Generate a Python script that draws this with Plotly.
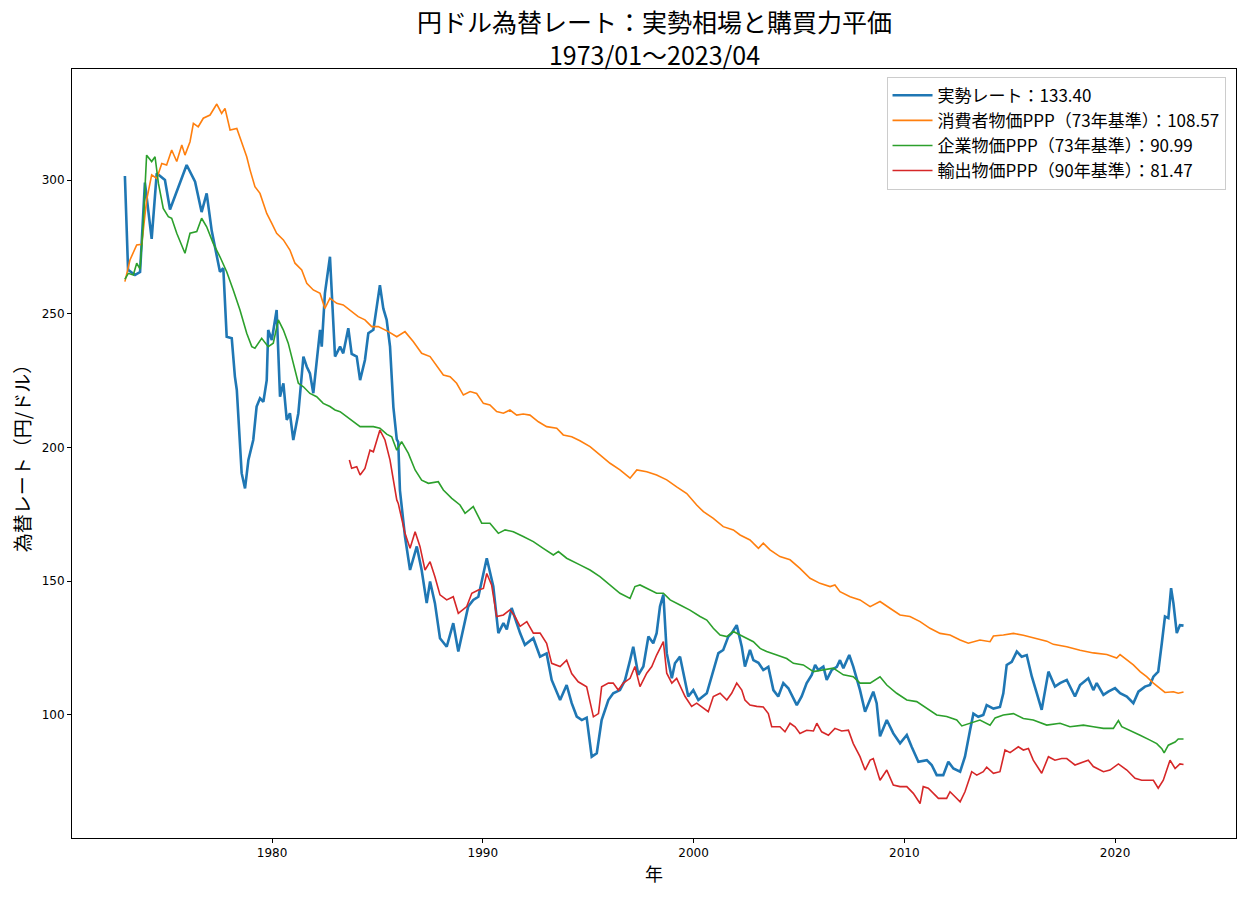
import plotly.graph_objects as go

# ---- data (decimal year, yen per dollar) ----
actual_year = [1973.02, 1973.17, 1973.50, 1973.74, 1973.97, 1974.29, 1974.53, 1974.92, 1975.16, 1975.32,
               1975.95, 1976.35, 1976.66, 1976.90, 1977.14, 1977.53, 1977.69, 1977.85, 1978.09, 1978.24,
               1978.33, 1978.56, 1978.72, 1978.88, 1979.11, 1979.27, 1979.43, 1979.59, 1979.75, 1979.82,
               1979.99, 1980.22, 1980.38, 1980.54, 1980.70, 1980.85, 1981.01, 1981.25, 1981.49, 1981.65,
               1981.80, 1981.96, 1982.20, 1982.28, 1982.36, 1982.51, 1982.75, 1982.99, 1983.23, 1983.38,
               1983.62, 1983.78, 1984.02, 1984.18, 1984.41, 1984.57, 1984.81, 1985.12, 1985.28, 1985.44,
               1985.60, 1985.76, 1985.92, 1985.99, 1986.07, 1986.31, 1986.55, 1986.87, 1987.10, 1987.34,
               1987.50, 1987.73, 1987.97, 1988.29, 1988.60, 1988.84, 1989.31, 1989.55, 1989.79, 1990.19,
               1990.50, 1990.74, 1990.98, 1991.14, 1991.37, 1991.77, 1992.00, 1992.40, 1992.72, 1993.03,
               1993.27, 1993.67, 1993.98, 1994.22, 1994.46, 1994.70, 1994.93, 1995.17, 1995.41, 1995.64,
               1995.96, 1996.19, 1996.51, 1996.75, 1996.99, 1997.14, 1997.38, 1997.62, 1997.86, 1998.09,
               1998.25, 1998.41, 1998.57, 1998.73, 1998.97, 1999.12, 1999.36, 1999.60, 1999.75, 1999.99,
               2000.23, 2000.63, 2000.94, 2001.18, 2001.41, 2001.65, 2001.81, 2002.05, 2002.29, 2002.44,
               2002.68, 2002.84, 2003.08, 2003.31, 2003.55, 2003.79, 2004.02, 2004.26, 2004.50, 2004.90,
               2005.13, 2005.37, 2005.61, 2005.77, 2005.92, 2006.16, 2006.32, 2006.56, 2006.80, 2006.95,
               2007.11, 2007.39, 2007.58, 2007.90, 2008.14, 2008.38, 2008.53, 2008.69, 2008.85, 2009.17,
               2009.48, 2009.80, 2010.12, 2010.35, 2010.67, 2011.07, 2011.30, 2011.54, 2011.85, 2012.09,
               2012.33, 2012.65, 2012.88, 2013.12, 2013.28, 2013.51, 2013.75, 2013.91, 2014.23, 2014.54,
               2014.70, 2014.86, 2015.10, 2015.34, 2015.57, 2015.81, 2016.05, 2016.29, 2016.52, 2016.84,
               2017.15, 2017.39, 2017.71, 2018.10, 2018.34, 2018.73, 2018.97, 2019.13, 2019.45, 2019.68,
               2020.00, 2020.24, 2020.56, 2020.87, 2021.11, 2021.42, 2021.66, 2021.82, 2022.05, 2022.22,
               2022.37, 2022.53, 2022.66, 2022.77, 2022.93, 2023.08, 2023.25]
actual_rate = [301.5, 266.4, 264.5, 265.6, 299.0, 278.0, 302.5, 300.0, 289.0, 292.5,
               305.6, 299.4, 288.0, 295.0, 281.0, 265.7, 267.0, 241.4, 240.8, 226.5,
               221.5, 190.4, 184.7, 195.3, 202.8, 215.3, 218.4, 217.1, 225.2, 243.9,
               240.2, 251.4, 219.0, 224.0, 210.3, 212.8, 202.8, 212.8, 234.0, 230.2,
               227.7, 220.3, 237.7, 244.0, 237.7, 257.6, 271.3, 234.0, 237.7, 235.2,
               244.6, 235.0, 234.0, 225.2, 232.7, 242.7, 244.0, 260.7, 252.0, 247.7,
               237.7, 215.0, 203.0, 202.0, 184.0, 166.7, 154.2, 163.0, 154.2, 141.8,
               149.9, 141.8, 128.7, 125.5, 134.3, 123.7, 140.6, 143.0, 144.2, 158.6,
               148.0, 130.6, 134.3, 132.0, 140.0, 130.6, 126.2, 128.7, 121.8, 123.0,
               113.1, 105.6, 111.2, 104.4, 99.4, 98.1, 99.0, 84.4, 85.7, 98.1,
               105.6, 108.1, 109.3, 113.0, 120.5, 125.5, 115.0, 118.1, 129.3, 126.8,
               130.6, 140.6, 145.0, 123.1, 113.7, 119.3, 121.8, 113.1, 106.9, 109.3,
               105.6, 108.1, 116.8, 123.1, 124.3, 129.3, 130.6, 133.6, 125.5, 118.1,
               124.3, 120.5, 119.5, 116.8, 118.0, 109.3, 106.9, 111.9, 110.0, 103.7,
               106.9, 111.9, 115.0, 118.7, 116.8, 118.1, 113.1, 116.8, 118.0, 120.5,
               117.5, 122.4, 118.1, 109.3, 101.2, 105.6, 108.7, 104.4, 92.0, 98.1,
               93.1, 89.4, 92.5, 88.1, 82.5, 83.1, 81.3, 77.5, 77.5, 82.5,
               80.0, 78.8, 84.4, 94.3, 100.5, 99.3, 100.0, 103.7, 102.4, 103.0,
               108.1, 118.7, 119.9, 123.7, 121.8, 122.4, 114.4, 108.1, 101.9, 116.2,
               110.6, 111.9, 113.1, 106.9, 111.2, 113.7, 109.3, 111.9, 107.5, 108.7,
               110.0, 108.1, 106.9, 104.4, 108.7, 110.6, 111.2, 114.3, 116.2, 126.8,
               136.8, 136.2, 147.4, 141.8, 130.6, 133.6, 133.4]

cpi_year = [1973.02, 1973.26, 1973.58, 1973.82, 1974.05, 1974.29, 1974.53, 1974.77, 1975.00, 1975.24,
            1975.48, 1975.72, 1975.87, 1976.11, 1976.27, 1976.50, 1976.74, 1977.06, 1977.38, 1977.61,
            1977.77, 1978.01, 1978.33, 1978.56, 1978.80, 1978.96, 1979.19, 1979.43, 1979.75, 1979.99,
            1980.22, 1980.54, 1980.85, 1981.09, 1981.41, 1981.65, 1981.96, 1982.28, 1982.51, 1982.75,
            1983.07, 1983.38, 1983.70, 1984.09, 1984.41, 1984.73, 1985.04, 1985.52, 1985.92, 1986.31,
            1986.70, 1987.10, 1987.50, 1987.73, 1988.13, 1988.45, 1988.76, 1989.08, 1989.40, 1989.71,
            1990.03, 1990.34, 1990.66, 1990.98, 1991.29, 1991.61, 1991.92, 1992.24, 1992.64, 1993.03,
            1993.51, 1993.82, 1994.22, 1994.61, 1995.09, 1995.56, 1996.04, 1996.51, 1996.99, 1997.31,
            1997.78, 1998.25, 1998.73, 1999.20, 1999.68, 2000.15, 2000.47, 2000.94, 2001.41, 2001.89,
            2002.21, 2002.68, 2003.08, 2003.31, 2003.63, 2004.10, 2004.58, 2005.05, 2005.53, 2006.00,
            2006.48, 2006.71, 2006.95, 2007.43, 2007.90, 2008.38, 2008.85, 2009.32, 2009.80, 2010.27,
            2010.75, 2011.22, 2011.70, 2012.17, 2012.65, 2013.04, 2013.59, 2014.07, 2014.23, 2014.70,
            2015.18, 2015.65, 2016.12, 2016.76, 2017.07, 2017.71, 2018.34, 2018.97, 2019.61, 2020.08,
            2020.24, 2020.56, 2020.87, 2021.19, 2021.50, 2021.82, 2022.14, 2022.37, 2022.77, 2023.00,
            2023.25]
cpi_ppp = [262.0, 270.1, 275.7, 276.0, 292.5, 301.9, 300.6, 306.2, 305.6, 311.2,
           306.9, 313.1, 309.3, 314.3, 321.2, 319.9, 323.1, 324.3, 328.4, 324.9,
           326.8, 318.7, 319.3, 313.7, 308.7, 303.7, 297.5, 295.0, 287.5, 283.8,
           280.1, 277.6, 273.8, 268.9, 266.4, 261.4, 258.9, 257.6, 252.0, 255.8,
           253.9, 253.3, 251.4, 248.9, 247.7, 245.2, 245.2, 243.3, 241.4, 243.3,
           239.6, 235.2, 234.0, 231.5, 227.1, 226.5, 224.0, 219.6, 220.9, 220.2,
           216.5, 215.9, 213.4, 212.8, 214.0, 212.1, 212.5, 212.1, 209.6, 207.8,
           207.2, 204.7, 204.0, 202.5, 200.3, 197.2, 194.1, 191.6, 188.5, 191.6,
           190.9, 189.7, 187.9, 185.3, 182.8, 178.5, 176.0, 173.5, 170.4, 169.2,
           167.3, 165.4, 162.3, 164.2, 161.7, 159.2, 158.0, 154.8, 151.1, 149.2,
           148.0, 148.6, 146.1, 144.2, 143.0, 140.5, 142.4, 139.9, 137.4, 136.8,
           134.9, 132.4, 130.5, 129.9, 128.0, 126.8, 128.0, 127.4, 129.5, 129.9,
           130.5, 129.8, 128.8, 127.6, 126.4, 125.5, 124.2, 123.2, 122.6, 121.3,
           122.6, 120.5, 118.7, 116.2, 114.3, 111.9, 110.0, 108.4, 108.7, 108.1,
           108.57]

wpi_year = [1973.02, 1973.18, 1973.42, 1973.58, 1973.74, 1973.89, 1974.05, 1974.29, 1974.45, 1974.61,
            1974.84, 1975.08, 1975.24, 1975.48, 1975.87, 1976.11, 1976.43, 1976.66, 1976.90, 1977.21,
            1977.53, 1977.85, 1978.16, 1978.48, 1978.80, 1979.04, 1979.19, 1979.51, 1979.82, 1980.06,
            1980.30, 1980.54, 1980.77, 1981.01, 1981.25, 1981.49, 1981.80, 1982.12, 1982.43, 1982.75,
            1982.99, 1983.23, 1983.54, 1983.86, 1984.18, 1984.49, 1984.81, 1985.12, 1985.44, 1985.68,
            1985.92, 1986.15, 1986.47, 1986.79, 1987.10, 1987.42, 1987.89, 1988.13, 1988.53, 1988.92,
            1989.16, 1989.55, 1989.95, 1990.34, 1990.74, 1991.06, 1991.45, 1991.92, 1992.40, 1992.87,
            1993.35, 1993.59, 1993.98, 1994.61, 1995.09, 1995.56, 1996.04, 1996.51, 1996.99, 1997.22,
            1997.46, 1997.94, 1998.25, 1998.57, 1998.89, 1999.36, 1999.83, 2000.31, 2000.63, 2000.94,
            2001.26, 2001.58, 2001.89, 2002.21, 2002.52, 2002.84, 2003.16, 2003.47, 2003.95, 2004.42,
            2004.74, 2005.21, 2005.69, 2006.16, 2006.63, 2007.11, 2007.58, 2007.90, 2008.38, 2008.85,
            2009.17, 2009.64, 2010.12, 2010.59, 2011.07, 2011.54, 2012.01, 2012.49, 2012.73, 2013.12,
            2013.59, 2014.07, 2014.31, 2014.70, 2015.18, 2015.65, 2016.12, 2016.76, 2017.39, 2017.86,
            2018.50, 2018.97, 2019.45, 2019.92, 2020.16, 2020.32, 2020.71, 2021.19, 2021.66, 2021.98,
            2022.22, 2022.33, 2022.53, 2022.85, 2023.00, 2023.25]
wpi_ppp = [262.9, 265.1, 264.5, 268.9, 266.7, 283.8, 309.3, 306.9, 308.7, 298.8,
           289.4, 286.3, 285.7, 280.1, 272.6, 280.1, 280.7, 285.7, 282.5, 276.3,
           271.3, 265.7, 258.9, 251.4, 242.7, 237.7, 237.1, 240.8, 237.7, 239.0,
           247.7, 243.9, 239.0, 231.5, 224.0, 222.7, 220.2, 219.0, 216.5, 215.3,
           214.0, 213.4, 211.5, 209.6, 207.8, 207.8, 207.8, 207.2, 205.0, 204.0,
           199.0, 202.2, 197.8, 191.6, 187.8, 186.6, 187.2, 184.1, 181.0, 178.5,
           175.4, 177.9, 171.7, 171.7, 167.9, 169.2, 168.5, 166.7, 164.8, 162.3,
           159.8, 161.1, 158.6, 156.1, 154.2, 151.7, 148.6, 145.5, 143.6, 148.0,
           148.6, 146.7, 145.5, 145.5, 143.0, 141.1, 139.2, 136.8, 135.5, 132.4,
           129.9, 129.3, 131.2, 129.9, 128.7, 127.4, 124.9, 123.7, 122.4, 121.1,
           119.3, 118.7, 116.2, 116.8, 117.5, 115.0, 114.3, 111.9, 111.9, 114.3,
           111.2, 108.1, 105.6, 105.0, 102.4, 100.0, 99.4, 98.1, 95.9, 96.9,
           98.1, 96.2, 98.9, 100.0, 100.5, 98.7, 98.1, 96.2, 96.9, 95.6,
           96.2, 95.6, 95.0, 95.0, 97.9, 95.6, 94.3, 92.4, 90.6, 89.3,
           87.4, 85.8, 88.7, 89.9, 91.0, 90.99]

epi_year = [1983.67, 1983.78, 1984.02, 1984.18, 1984.41, 1984.65, 1984.81, 1985.12, 1985.36, 1985.60,
            1985.76, 1985.92, 1985.99, 1986.15, 1986.31, 1986.55, 1986.79, 1987.02, 1987.26, 1987.50,
            1987.73, 1987.97, 1988.29, 1988.60, 1988.84, 1989.24, 1989.48, 1989.79, 1990.03, 1990.19,
            1990.42, 1990.66, 1990.98, 1991.29, 1991.53, 1991.77, 1992.09, 1992.40, 1992.72, 1993.03,
            1993.27, 1993.67, 1993.98, 1994.22, 1994.53, 1994.93, 1995.25, 1995.49, 1995.64, 1995.96,
            1996.19, 1996.43, 1996.67, 1996.99, 1997.22, 1997.46, 1997.78, 1998.02, 1998.25, 1998.57,
            1998.73, 1998.97, 1999.20, 1999.60, 1999.91, 2000.15, 2000.47, 2000.70, 2000.94, 2001.26,
            2001.58, 2001.81, 2002.05, 2002.29, 2002.44, 2002.68, 2003.00, 2003.31, 2003.55, 2003.71,
            2004.10, 2004.34, 2004.58, 2004.82, 2005.05, 2005.37, 2005.69, 2005.85, 2006.08, 2006.40,
            2006.71, 2007.03, 2007.35, 2007.58, 2007.90, 2008.14, 2008.38, 2008.53, 2008.85, 2009.17,
            2009.48, 2009.80, 2010.12, 2010.43, 2010.75, 2010.90, 2011.14, 2011.38, 2011.62, 2012.01,
            2012.17, 2012.41, 2012.65, 2012.88, 2013.20, 2013.44, 2013.75, 2013.91, 2014.23, 2014.54,
            2014.78, 2015.02, 2015.41, 2015.65, 2015.89, 2016.12, 2016.52, 2016.84, 2017.15, 2017.47,
            2017.71, 2018.10, 2018.50, 2018.73, 2018.97, 2019.45, 2019.76, 2020.16, 2020.56, 2020.95,
            2021.27, 2021.82, 2022.05, 2022.29, 2022.61, 2022.85, 2023.08, 2023.25]
epi_ppp = [195.3, 192.2, 192.8, 189.7, 192.2, 199.0, 198.4, 206.5, 202.8, 195.3,
           187.8, 180.4, 179.1, 172.9, 167.9, 162.3, 168.5, 163.0, 154.2, 157.3,
           151.7, 144.9, 143.0, 144.2, 138.0, 140.5, 145.5, 146.7, 147.3, 152.9,
           148.6, 136.8, 137.4, 139.3, 136.8, 133.1, 134.9, 130.6, 130.6, 126.8,
           119.3, 118.1, 120.5, 115.5, 112.4, 110.5, 99.3, 100.5, 110.5, 111.9,
           111.9, 109.3, 111.9, 113.7, 118.1, 110.6, 115.6, 118.1, 122.4, 127.4,
           115.6, 111.9, 113.7, 106.9, 103.2, 104.4, 102.4, 101.2, 106.9, 108.1,
           105.6, 108.1, 111.9, 109.3, 105.6, 103.7, 103.2, 103.0, 100.5, 95.6,
           95.6, 93.7, 96.9, 95.6, 93.1, 94.3, 94.0, 96.9, 93.7, 92.4,
           95.0, 94.0, 94.3, 89.3, 84.4, 79.4, 83.1, 83.7, 75.6, 79.4,
           73.8, 73.2, 73.2, 70.7, 66.9, 73.2, 72.6, 70.7, 68.8, 68.8,
           71.3, 69.4, 67.5, 71.3, 78.8, 77.5, 78.8, 80.5, 78.2, 78.8,
           86.9, 85.9, 88.1, 86.9, 87.5, 83.1, 78.2, 84.4, 83.1, 83.7,
           83.7, 81.3, 82.5, 83.1, 80.7, 78.8, 79.4, 81.7, 79.4, 76.3,
           75.6, 75.6, 72.6, 75.6, 83.1, 80.0, 81.7, 81.47]

series_names = ["実勢レート：133.40",
                "消費者物価PPP（73年基準）：108.57",
                "企業物価PPP（73年基準）：90.99",
                "輸出物価PPP（90年基準）：81.47"]
colors = ["#1f77b4", "#ff7f0e", "#2ca02c", "#d62728"]
x_ticks = [1980, 1990, 2000, 2010, 2020]
y_ticks = [100, 150, 200, 250, 300]

JP = "Noto Sans CJK JP"

fig = go.Figure()
for xs, ys, name, col, w in [
    (actual_year, actual_rate, series_names[0], colors[0], 2.6),
    (cpi_year, cpi_ppp, series_names[1], colors[1], 1.6),
    (wpi_year, wpi_ppp, series_names[2], colors[2], 1.6),
    (epi_year, epi_ppp, series_names[3], colors[3], 1.6),
]:
    fig.add_trace(go.Scatter(x=xs, y=ys, mode="lines", name=name,
                             line=dict(color=col, width=w)))

axis_common = dict(showline=True, linecolor="black", linewidth=1, mirror=True,
                   ticks="outside", ticklen=4, tickwidth=1, tickcolor="black",
                   showgrid=False, zeroline=False,
                   tickfont=dict(family="DejaVu Sans", size=12, color="black"))

fig.update_layout(
    width=1244, height=897,
    margin=dict(l=72, r=8, t=69, b=59),
    paper_bgcolor="white", plot_bgcolor="white",
    font=dict(family=JP, color="black"),
    xaxis=dict(range=[1970.51, 2025.74], tickvals=x_ticks,
               ticktext=[str(v) for v in x_ticks],
               title=dict(text="年", font=dict(family=JP, size=18), standoff=8),
               **axis_common),
    yaxis=dict(range=[54.0, 341.5], tickvals=y_ticks,
               ticktext=[str(v) for v in y_ticks],
               title=dict(text="為替レート（円/ドル）", font=dict(family=JP, size=19), standoff=6),
               **axis_common),
    legend=dict(x=0.991, y=0.99, xanchor="right", yanchor="top",
                bgcolor="rgba(255,255,255,0.8)", bordercolor="#cccccc", borderwidth=1,
                font=dict(family=JP, size=17), itemwidth=40, tracegroupgap=0),
    showlegend=True,
    annotations=[
        dict(text="円ドル為替レート：実勢相場と購買力平価<br>1973/01～2023/04",
             xref="paper", yref="paper",
             x=0.5, y=1.0884, xanchor="center", yanchor="top", showarrow=False,
             align="center",
             font=dict(family=JP, size=25, color="black")),
    ],
)

fig.write_html("out.html")
